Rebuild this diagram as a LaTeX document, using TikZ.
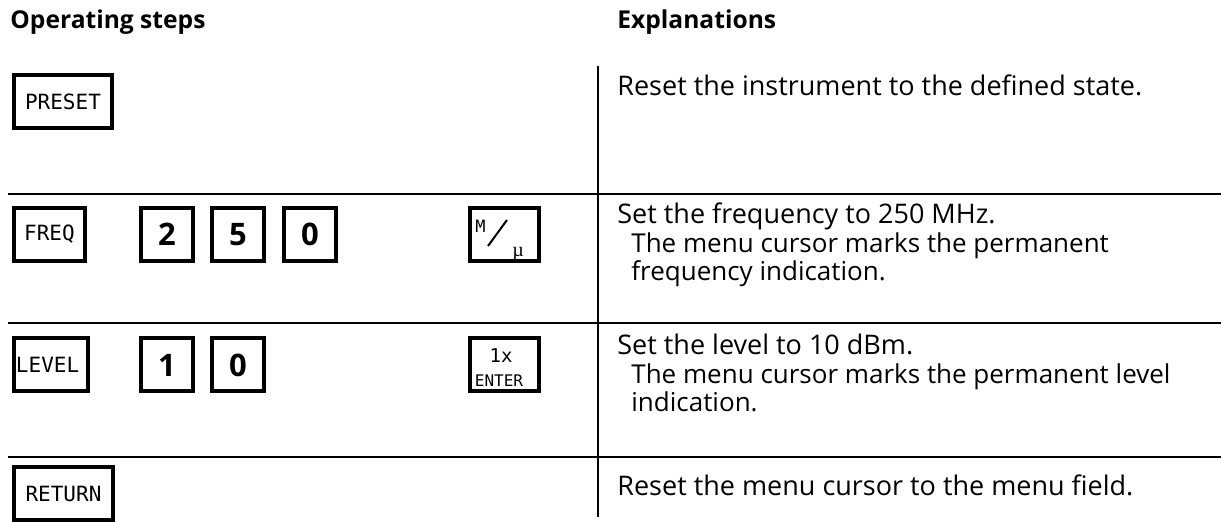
\documentclass[tikz,border=0pt]{standalone}
\usepackage{fontspec}
\setmainfont{Open Sans}
\newfontfamily\keyfont{DejaVu Sans Mono}
\newfontfamily\mufont{Liberation Serif}
\begin{document}
\begin{tikzpicture}[x=0.5pt,y=-0.5pt,
  key/.style={draw, line width=2pt, inner sep=0pt, minimum height=26.5pt},
  keytxt/.style={font=\keyfont\fontsize{10.5}{12}\selectfont},
  digit/.style={key, minimum width=26pt, font=\bfseries\fontsize{15.5}{18}\selectfont},
  rule/.style={line width=1pt},
  sep/.style={line width=0.8pt},
  expl/.style={anchor=base west, inner sep=0pt, font=\fontsize{13.5}{16}\selectfont},
  subexpl/.style={anchor=base west, inner sep=0pt, font=\fontsize{13}{15}\selectfont},
  head/.style={anchor=base west, inner sep=0pt, font=\bfseries\fontsize{12.3}{15}\selectfont},
  small/.style={inner sep=0pt, anchor=base}
]
\useasboundingbox (0,0) rectangle (1221,522);
% headers
\node[head] (h1) at (10,29) {Operating steps};
\node[head] (h2) at (617,29) {Explanations};
% separators
\coordinate (vt) at (598,66); \coordinate (vb) at (598,517);
\draw[sep] (vt) -- (vb);
\coordinate (l1a) at (8,194); \coordinate (l1b) at (1221,194);
\coordinate (l2a) at (8,323); \coordinate (l2b) at (1221,323);
\coordinate (l3a) at (8,457); \coordinate (l3b) at (1221,457);
\draw[rule] (l1a) -- (l1b);
\draw[rule] (l2a) -- (l2b);
\draw[rule] (l3a) -- (l3b);
% row 1
\node[key, minimum width=49pt, keytxt] (preset) at (63,101.5) {PRESET};
\node[expl] (t1) at (617,96) {Reset the instrument to the defined state.};
% row 2
\node[key, minimum width=35.5pt, keytxt] (freq) at (49.5,234.5) {FREQ};
\node[digit] (d2) at (167,234.5) {2};
\node[digit] (d5) at (238,234.5) {5};
\node[digit] (d0) at (310,234.5) {0};
\node[key, minimum width=34.5pt] (mu) at (504.5,234.5) {};
\node[small, anchor=base west, font=\keyfont\fontsize{8.5}{10}\selectfont] (mM) at (475,233) {M};
\node[small, anchor=base west, font=\mufont\fontsize{10}{12}\selectfont] (mmu) at (512,257) {µ};
\draw[line width=1pt] (488,246) -- (507,220);
\node[expl] (t2a) at (617,224) {Set the frequency to 250 MHz.};
\node[subexpl] (t2b) at (631,253) {The menu cursor marks the permanent};
\node[subexpl] (t2c) at (631,281) {frequency indication.};
% row 3
\node[key, minimum width=37pt, keytxt, text width=37pt, align=left] (level) at (51,365) {\hspace{1pt}LEVEL};
\node[digit] (d1) at (167,365) {1};
\node[digit] (d0b) at (238,365) {0};
\node[key, minimum width=34.5pt] (enter) at (504.5,365) {};
\node[small, font=\keyfont\fontsize{9.5}{11}\selectfont] (e1) at (501,363) {1x};
\node[small, font=\keyfont\fontsize{8}{10}\selectfont] (e2) at (499,387) {ENTER};
\node[expl] (t3a) at (617,355) {Set the level to 10 dBm.};
\node[subexpl] (t3b) at (631,384) {The menu cursor marks the permanent level};
\node[subexpl] (t3c) at (631,412) {indication.};
% row 4
\node[key, minimum width=49.5pt, keytxt] (ret) at (63.5,493.5) {RETURN};
\node[expl] (t4) at (617,496) {Reset the menu cursor to the menu field.};
\end{tikzpicture}
\end{document}
